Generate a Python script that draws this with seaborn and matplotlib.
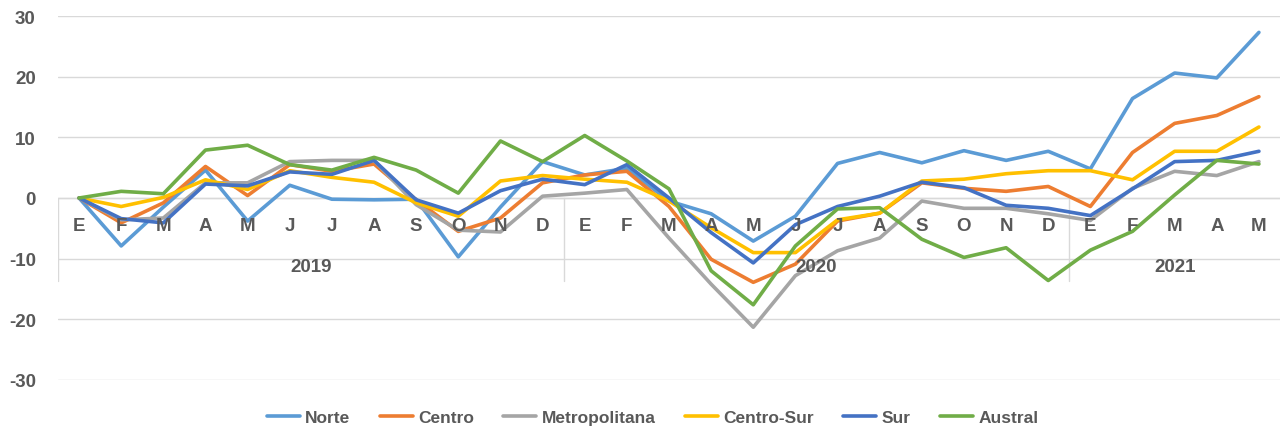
import numpy as np
import pandas as pd
import matplotlib.pyplot as plt
import seaborn as sns

sns.set_style('white')
plt.rcParams['font.family'] = ['Liberation Sans', 'DejaVu Sans']

# Data
months = ['E', 'F', 'M', 'A', 'M', 'J', 'J', 'A', 'S', 'O', 'N', 'D',
          'E', 'F', 'M', 'A', 'M', 'J', 'J', 'A', 'S', 'O', 'N', 'D',
          'E', 'F', 'M', 'A', 'M']
years = ['2019', '2020', '2021']
year_spans = [(0, 11), (12, 23), (24, 28)]

norte = [0, -7.9, -1.5, 4.6, -3.8, 2.1, -0.2, -0.3, -0.2, -9.7, -1.5, 6.0,
         3.8, 4.9, -0.5, -2.6, -7.1, -3.0, 5.7, 7.5, 5.8, 7.8, 6.2, 7.7,
         4.8, 16.4, 20.6, 19.8, 27.3]
centro = [0, -4.1, -0.8, 5.2, 0.4, 5.5, 4.4, 5.6, -0.3, -5.5, -3.3, 2.5,
          3.8, 4.4, -1.4, -10.1, -13.9, -10.9, -3.8, -2.5, 2.5, 1.6, 1.1, 1.9,
          -1.4, 7.5, 12.3, 13.6, 16.7]
metropolitana = [0, -3.6, -3.3, 2.5, 2.5, 6.0, 6.2, 6.2, -1.1, -5.3, -5.6, 0.3,
                 0.8, 1.4, -6.6, -14.2, -21.3, -12.8, -8.7, -6.6, -0.5, -1.7, -1.7, -2.6,
                 -3.7, 1.6, 4.4, 3.7, 6.0]
centro_sur = [0, -1.4, 0.1, 3.0, 1.4, 4.5, 3.4, 2.6, -0.8, -3.0, 2.8, 3.7,
              3.1, 2.6, -0.5, -4.9, -9.0, -9.0, -3.6, -2.5, 2.8, 3.1, 4.0, 4.5,
              4.5, 3.0, 7.7, 7.7, 11.7]
sur = [0, -3.4, -4.1, 2.3, 2.0, 4.3, 3.9, 6.2, -0.3, -2.5, 1.2, 3.1,
       2.2, 5.5, 0.0, -5.7, -10.7, -4.4, -1.4, 0.3, 2.6, 1.7, -1.2, -1.7,
       -2.9, 1.5, 6.0, 6.2, 7.7]
austral = [0, 1.1, 0.7, 7.9, 8.7, 5.5, 4.6, 6.7, 4.6, 0.8, 9.4, 6.0,
           10.3, 6.1, 1.5, -12.0, -17.6, -7.9, -1.8, -1.6, -6.8, -9.8, -8.2, -13.6,
           -8.6, -5.5, 0.5, 6.2, 5.6]

regions = ['Norte', 'Centro', 'Metropolitana', 'Centro-Sur', 'Sur', 'Austral']
series = [norte, centro, metropolitana, centro_sur, sur, austral]
colors = ['#5B9BD5', '#ED7D31', '#A5A5A5', '#FFC000', '#4472C4', '#70AD47']

df = pd.concat([pd.DataFrame({'t': np.arange(len(months)), 'valor': v, 'region': r})
                for r, v in zip(regions, series)], ignore_index=True)

fig = plt.figure(figsize=(12.82, 4.31), dpi=100)
ax = fig.add_axes([58 / 1282, 50 / 431, 1222 / 1282, 364 / 431])

sns.lineplot(data=df, x='t', y='valor', hue='region', hue_order=regions,
             palette=colors, linewidth=2.6, ax=ax)

txt = '#595959'
grid = '#D9D9D9'
ax.set_xlim(-0.5, len(months) - 0.5)
ax.set_ylim(-30, 30)
ax.set_yticks(np.arange(-30, 31, 10))
ax.set_yticklabels([str(v) for v in range(-30, 31, 10)], fontsize=13.5,
                   fontweight='bold', color=txt)
ax.tick_params(axis='y', length=0, pad=16)
ax.set_xticks([])
ax.set_xlabel('')
ax.set_ylabel('')
for s in ax.spines.values():
    s.set_visible(False)
ax.yaxis.grid(True, color=grid, linewidth=1)
ax.set_axisbelow(True)
ax.axhline(0, color=grid, linewidth=1, zorder=0)

# month and year labels on the zero axis
for i, m in enumerate(months):
    ax.text(i, -4.6, m, ha='center', va='center', fontsize=13.5,
            fontweight='bold', color=txt)
for yr, (a, b) in zip(years, year_spans):
    ax.text((a + b) / 2, -11.3, yr, ha='center', va='center', fontsize=13.5,
            fontweight='bold', color=txt)
for xs in [-0.5, 11.5, 23.5]:
    ax.plot([xs, xs], [0, -13.6], color=grid, linewidth=1, zorder=0)

handles, labels = ax.get_legend_handles_labels()
ax.legend_.remove()
fig.legend(handles, labels, loc='center', bbox_to_anchor=(0.509, 13 / 431),
           ncol=6, frameon=False, prop={'size': 12.5, 'weight': 'bold'},
           labelcolor=txt, handlelength=1.9, columnspacing=1.7, handletextpad=0.3)

plt.savefig('out.png', dpi=100)
